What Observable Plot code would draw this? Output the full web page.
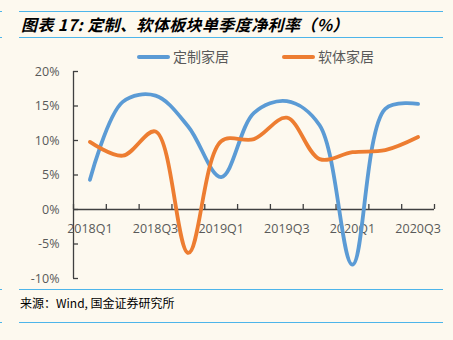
<!DOCTYPE html>
<html><head><meta charset="utf-8">
<script src="https://cdn.jsdelivr.net/npm/d3@7"></script>
<script src="https://cdn.jsdelivr.net/npm/@observablehq/plot@0.6"></script>
<style>
html,body{margin:0;padding:0;background:#FDF9EF;}
#wrap{position:relative;width:453px;height:340px;overflow:hidden;background:#FDF9EF;}
.hr{position:absolute;left:19px;width:424px;height:0;border-top:1.6px solid #4DB5EA;}
.hrs{position:absolute;left:0;width:2px;height:0;border-top:1.6px solid #4DB5EA;}
#title{position:absolute;left:21px;top:13px;font:italic bold 16px "Noto Sans CJK SC",sans-serif;letter-spacing:0.4px;color:#000;white-space:nowrap;line-height:23px;}
.leg{position:absolute;top:47px;font:14px "Noto Sans CJK SC",sans-serif;color:#595959;line-height:18px;white-space:nowrap;}
.sw{position:absolute;top:55px;width:33px;height:4px;border-radius:2px;}
#cap{position:absolute;left:20px;top:294px;font:12px "Noto Sans CJK SC",sans-serif;color:#000;line-height:17px;white-space:nowrap;}
#chart{position:absolute;left:0;top:0;}
</style></head><body>
<div id="wrap">
  <div id="chart"></div>
  <div class="hr" style="top:11px"></div><div class="hrs" style="top:11px"></div>
  <div id="title">图表 17: 定制、软体板块单季度净利率（%）</div>
  <div class="hr" style="top:37px"></div><div class="hrs" style="top:37px"></div>
  <div class="sw" style="left:137px;background:#5B9BD5"></div>
  <div class="leg" style="left:173px">定制家居</div>
  <div class="sw" style="left:282px;background:#ED7D31"></div>
  <div class="leg" style="left:318px">软体家居</div>
  <div class="hr" style="top:289px"></div><div class="hrs" style="top:289px"></div>
  <div id="cap">来源：Wind, 国金证券研究所</div>
  <div class="hr" style="top:322px"></div><div class="hrs" style="top:322px"></div>
</div>
<script>
const quarters = ["2018Q1","2018Q2","2018Q3","2018Q4","2019Q1","2019Q2","2019Q3","2019Q4","2020Q1","2020Q2","2020Q3"];
const customHome = [4.3, 15.6, 16.5, 12.0, 4.7, 14.0, 15.7, 12.2, -8.0, 14.6, 15.3];
const softHome   = [9.8, 7.8, 11.3, -6.3, 9.9, 10.2, 13.3, 7.3, 8.3, 8.6, 10.5];
const yTicks = [-10, -5, 0, 5, 10, 15, 20];
const shownLabels = ["2018Q1","2018Q3","2019Q1","2019Q3","2020Q1","2020Q3"];

const rows = [];
quarters.forEach((q, i) => {
  rows.push({q, i, s: "定制家居", v: customHome[i]});
  rows.push({q, i, s: "软体家居", v: softHome[i]});
});
const boundaries = d3.range(quarters.length + 1);
const axisColor = "#404040";
const labelColor = "#595959";

const chart = Plot.plot({
  width: 453,
  height: 340,
  marginTop: 71,
  marginBottom: 62,
  marginLeft: 73,
  marginRight: 19,
  style: {background: "transparent", fontFamily: "'Open Sans', sans-serif", fontSize: "12.5px"},
  x: {type: "linear", domain: [0, quarters.length], axis: null},
  y: {domain: [-10, 20], axis: null},
  color: {domain: ["定制家居", "软体家居"], range: ["#5B9BD5", "#ED7D31"]},
  marks: [
    Plot.ruleY([0], {stroke: axisColor, strokeWidth: 1.3}),
    Plot.ruleX(boundaries, {x: d => d, y1: 0, y2: 0, insetTop: -5, stroke: axisColor, strokeWidth: 1.3}),
    Plot.ruleX([0], {stroke: axisColor, strokeWidth: 1.3}),
    Plot.ruleY(yTicks, {y: d => d, x1: 0, x2: 0, insetRight: -5, stroke: axisColor, strokeWidth: 1.3}),
    Plot.text(yTicks, {x: 0, y: d => d, text: d => d + "%", textAnchor: "end", dx: -14, fill: labelColor}),
    Plot.text(quarters.map((q, i) => ({q, i})).filter(d => shownLabels.includes(d.q)),
      {x: d => d.i + 0.5, y: 0, text: "q", dy: 19, fill: labelColor}),
    Plot.line(rows, {x: d => d.i + 0.5, y: "v", z: "s", stroke: "s", strokeWidth: 3.8, curve: "catmull-rom"})
  ]
});
document.getElementById("chart").append(chart);
</script>
</body></html>
